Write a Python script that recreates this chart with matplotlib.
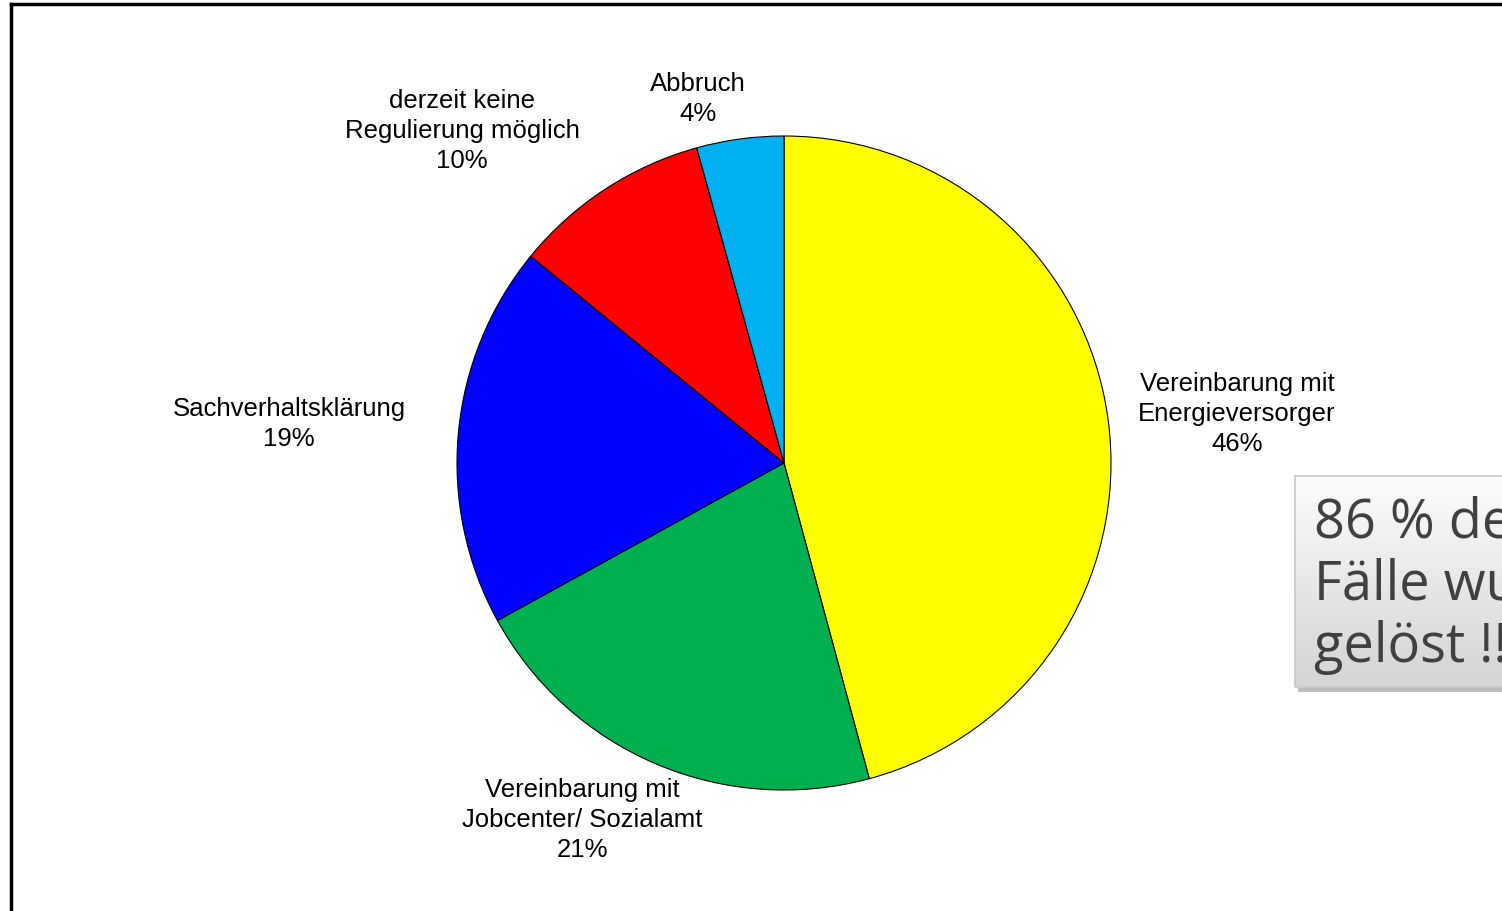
import matplotlib.pyplot as plt
import numpy as np
from matplotlib.patches import Rectangle
from matplotlib.lines import Line2D

# Daten (im Uhrzeigersinn ab 12 Uhr)
labels = ['Vereinbarung mit\nEnergieversorger', 'Vereinbarung mit\nJobcenter/ Sozialamt',
          'Sachverhaltsklärung', 'derzeit keine\nRegulierung möglich', 'Abbruch']
values = [45.8, 21.2, 18.9, 9.8, 4.3]
pct_labels = ['46%', '21%', '19%', '10%', '4%']
colors = ['#FFFF00', '#00B050', '#0000FF', '#FF0000', '#00B0F0']

# Beschriftungspositionen (Pixel im Bild)
label_pos = [(1237, 414), (582, 820), (289, 424), (462, 131), (698, 99)]
box_text = '86 % der\nFälle wurden\ngelöst !!!'

W, H = 1502, 912
CX, CY, R = 784, 464, 327

fig = plt.figure(figsize=(W / 100, H / 100), dpi=100)
ax = fig.add_axes([0, 0, 1, 1])
ax.set_aspect('equal')
ax.axis('off')

ax.pie(values, colors=colors, startangle=90, counterclock=False, radius=1,
       wedgeprops=dict(edgecolor='black', linewidth=0.8))

def px(x, y):
    return (x - CX) / R, (CY - y) / R

for lab, p, (x, y) in zip(labels, pct_labels, label_pos):
    ax.text(*px(x, y), f'{lab}\n{p}', ha='center', va='center',
            fontsize=18.5, family='Liberation Sans', linespacing=1.3, color='black')

# Rahmen
fig.add_artist(Line2D([11 / W, 11 / W], [0, 1 - 5 / H], color='black', lw=2.5))
fig.add_artist(Line2D([11 / W, 1], [1 - 5 / H, 1 - 5 / H], color='black', lw=2.5))

# Textbox mit Verlauf und Schatten
bx0, by0, bx1, by1 = 1295, 477, 1540, 688
sx0, sy0 = px(bx0 + 3, by1 + 5)
sx1, sy1 = px(bx1 + 3, by0 + 5)
ax.add_patch(Rectangle((sx0, sy0), sx1 - sx0, sy1 - sy0,
                       facecolor='#8a8a8a', edgecolor='none', alpha=0.55, zorder=3))
x0, y0 = px(bx0, by1)
x1, y1 = px(bx1, by0)
grad = np.linspace(0.99, 0.83, 100).reshape(-1, 1)
ax.imshow(np.dstack([grad, grad, grad]), extent=(x0, x1, y0, y1), aspect='auto',
          zorder=4, interpolation='bicubic')
ax.add_patch(Rectangle((x0, y0), x1 - x0, y1 - y0, facecolor='none',
                       edgecolor='#c8c8c8', lw=1.2, zorder=5))
ax.set_xlim(-CX / R, (W - CX) / R)
ax.set_ylim(-(H - CY) / R, CY / R)

ax.text(*px(1314, 585), box_text, ha='left', va='center', fontsize=39,
        family='Open Sans', color='#404040', linespacing=1.17, zorder=6)

fig.savefig('out.png', dpi=100)
